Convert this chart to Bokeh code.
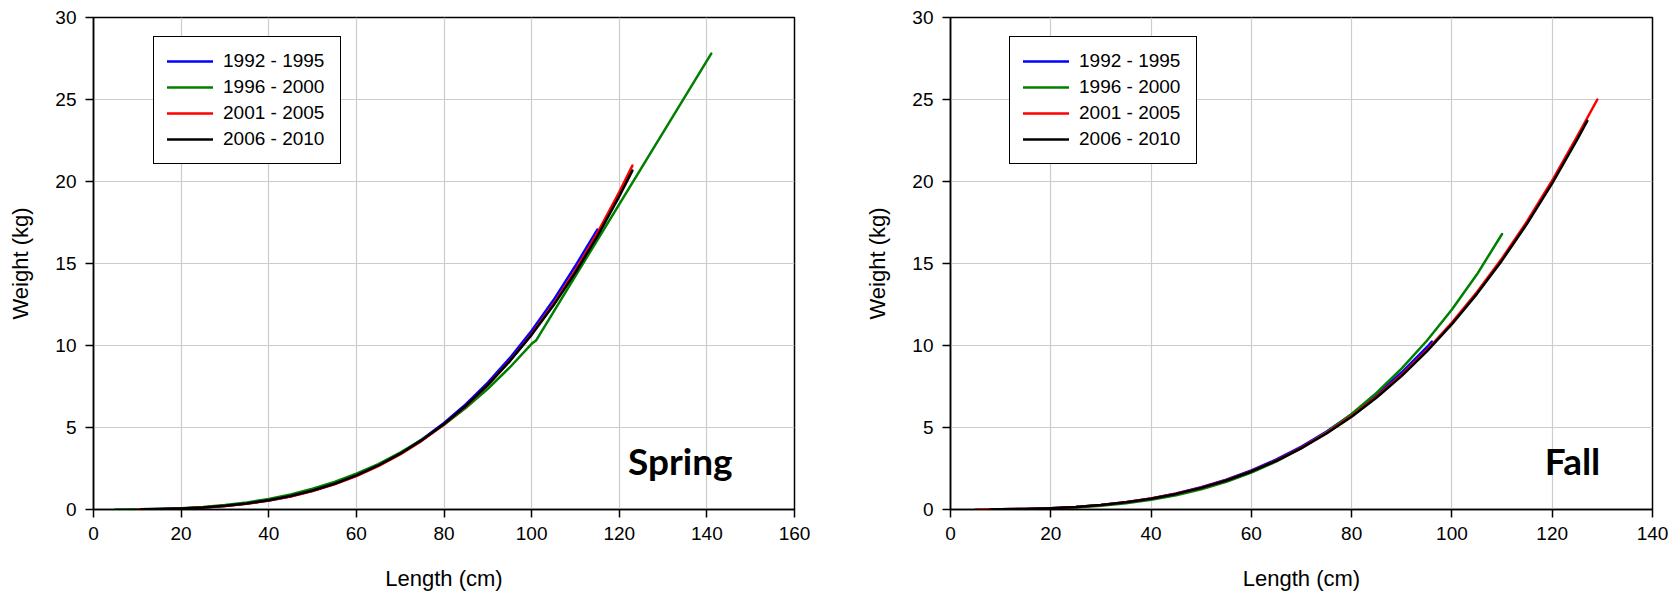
from bokeh.plotting import figure
from bokeh.models import Range1d, SingleIntervalTicker, Legend, LegendItem, Label
from bokeh.layouts import row
from bokeh.embed import file_html
from bokeh.resources import INLINE

# ---------------- data ----------------
series_labels = ["1992 - 1995", "1996 - 2000", "2001 - 2005", "2006 - 2010"]
series_colors = ["#0000ff", "#008000", "#ff0000", "#000000"]

# Spring
spring_1992_len = [10, 15, 20, 25, 30, 35, 40, 45, 50, 55, 60, 65, 70, 75, 80, 85, 90, 95, 100, 105, 110, 115]
spring_1992_wt = [0.006, 0.023, 0.058, 0.121, 0.218, 0.360, 0.555, 0.813, 1.146, 1.562, 2.072, 2.688, 3.419,
                  4.279, 5.279, 6.428, 7.739, 9.227, 10.90, 12.77, 14.86, 17.07]
spring_1996_len = [5, 10, 15, 20, 25, 30, 35, 40, 45, 50, 55, 60, 65, 70, 75, 80, 85, 90, 95, 100, 101, 141]
spring_1996_wt = [0.001, 0.010, 0.034, 0.081, 0.158, 0.273, 0.433, 0.646, 0.920, 1.263, 1.680, 2.182, 2.773,
                  3.464, 4.261, 5.171, 6.203, 7.363, 8.660, 10.10, 10.30, 27.80]
spring_2001_len = [10, 15, 20, 25, 30, 35, 40, 45, 50, 55, 60, 65, 70, 75, 80, 85, 90, 95, 100, 105, 110, 115, 120, 123]
spring_2001_wt = [0.006, 0.022, 0.057, 0.118, 0.214, 0.353, 0.545, 0.798, 1.125, 1.533, 2.034, 2.639, 3.357,
                  4.201, 5.182, 6.310, 7.597, 9.058, 10.70, 12.54, 14.59, 16.85, 19.35, 20.97]
spring_2006_len = [11, 15, 20, 25, 30, 35, 40, 45, 50, 55, 60, 65, 70, 75, 80, 85, 90, 95, 100, 105, 110, 115, 120, 123]
spring_2006_wt = [0.009, 0.025, 0.062, 0.126, 0.226, 0.370, 0.567, 0.828, 1.159, 1.572, 2.077, 2.684, 3.402,
                  4.242, 5.215, 6.331, 7.601, 9.038, 10.65, 12.45, 14.45, 16.66, 19.09, 20.66]

# Fall
fall_1992_len = [10, 15, 20, 25, 30, 35, 40, 45, 50, 55, 60, 65, 70, 75, 80, 85, 90, 95, 96]
fall_1992_wt = [0.009, 0.032, 0.079, 0.158, 0.278, 0.448, 0.677, 0.976, 1.353, 1.818, 2.380, 3.051, 3.840,
                4.755, 5.808, 7.009, 8.367, 9.895, 10.24]
fall_1996_len = [10, 15, 20, 25, 30, 35, 40, 45, 50, 55, 60, 65, 70, 75, 80, 85, 90, 95, 100, 105, 110]
fall_1996_wt = [0.006, 0.023, 0.059, 0.124, 0.227, 0.378, 0.588, 0.868, 1.230, 1.686, 2.250, 2.932, 3.747,
                4.708, 5.829, 7.125, 8.607, 10.29, 12.20, 14.34, 16.80]
fall_2001_len = [5, 10, 15, 20, 25, 30, 35, 40, 45, 50, 55, 60, 65, 70, 75, 80, 85, 90, 95, 100, 105, 110, 115,
                 120, 125, 129]
fall_2001_wt = [0.001, 0.009, 0.032, 0.078, 0.155, 0.273, 0.440, 0.666, 0.959, 1.329, 1.786, 2.339, 2.998,
                3.773, 4.673, 5.708, 6.888, 8.223, 9.724, 11.40, 13.26, 15.32, 17.58, 20.06, 22.77, 25.00]
fall_2006_len = [8, 10, 15, 20, 25, 30, 35, 40, 45, 50, 55, 60, 65, 70, 75, 80, 85, 90, 95, 100, 105, 110, 115,
                 120, 125, 127]
fall_2006_wt = [0.005, 0.009, 0.032, 0.077, 0.154, 0.270, 0.436, 0.660, 0.951, 1.318, 1.771, 2.319, 2.972,
                3.740, 4.632, 5.658, 6.827, 8.151, 9.639, 11.30, 13.15, 15.19, 17.43, 19.89, 22.57, 23.70]

spring_x_max = 160
fall_x_max = 140
y_max = 30
season_names = ["Spring", "Fall"]

FONT = "Liberation Sans"


def make_plot(series, x_max, season, border_left, frame_w, border_right, season_x, legend_x):
    p = figure(output_backend="svg", toolbar_location=None,
               frame_width=frame_w, frame_height=492,
               min_border_left=border_left, min_border_right=border_right,
               min_border_top=17, min_border_bottom=84,
               x_range=Range1d(0, x_max), y_range=Range1d(0, y_max))
    p.background_fill_color = "white"
    p.border_fill_color = "white"
    p.outline_line_color = "black"
    p.outline_line_width = 1.5
    p.outline_line_alpha = 1.0

    p.xaxis.ticker = SingleIntervalTicker(interval=20, num_minor_ticks=0)
    p.yaxis.ticker = SingleIntervalTicker(interval=5, num_minor_ticks=0)
    p.xaxis.axis_label = "Length (cm)"
    p.yaxis.axis_label = "Weight (kg)"
    for ax in (p.xaxis, p.yaxis):
        ax.axis_line_color = "black"
        ax.axis_line_width = 1.5
        ax.major_tick_line_color = "black"
        ax.major_tick_line_width = 1.5
        ax.major_tick_in = 0
        ax.major_tick_out = 8
        ax.minor_tick_line_color = None
        ax.major_label_text_font = FONT
        ax.major_label_text_font_size = "19px"
        ax.major_label_text_color = "black"
        ax.axis_label_text_font = FONT
        ax.axis_label_text_font_size = "22px"
        ax.axis_label_text_font_style = "normal"
        ax.axis_label_text_color = "black"
    p.xaxis.major_label_standoff = 9
    p.yaxis.major_label_standoff = 9
    p.xaxis.axis_label_standoff = 23
    p.yaxis.axis_label_standoff = 19

    p.xgrid.grid_line_color = "#cccccc"
    p.ygrid.grid_line_color = "#cccccc"
    p.xgrid.grid_line_width = 1.2
    p.ygrid.grid_line_width = 1.2

    items = []
    for (xs, ys), lab, col in zip(series, series_labels, series_colors):
        r = p.line(xs, ys, line_color=col, line_width=2.5, line_join="round", line_cap="round")
        items.append(LegendItem(label=lab, renderers=[r]))

    legend = Legend(items=items, location=(legend_x, 345))
    legend.border_line_color = "black"
    legend.border_line_width = 1.5
    legend.border_line_alpha = 1.0
    legend.background_fill_color = "white"
    legend.background_fill_alpha = 1.0
    legend.label_text_font = FONT
    legend.label_text_font_size = "19px"
    legend.label_text_color = "black"
    legend.glyph_width = 46
    legend.glyph_height = 20
    legend.label_height = 20
    legend.label_width = 104
    legend.label_standoff = 10
    legend.spacing = 4
    legend.padding = 13
    legend.margin = 0
    p.add_layout(legend)

    p.add_layout(Label(x=season_x, y=3.0, text=season, text_font="Lato", text_font_style="bold",
                       text_font_size="37px", text_color="black", text_baseline="alphabetic"))
    return p


spring = make_plot([(spring_1992_len, spring_1992_wt), (spring_1996_len, spring_1996_wt),
                    (spring_2001_len, spring_2001_wt), (spring_2006_len, spring_2006_wt)],
                   spring_x_max, season_names[0], 93, 701, 64, 122.0, 60)
fall = make_plot([(fall_1992_len, fall_1992_wt), (fall_1996_len, fall_1996_wt),
                  (fall_2001_len, fall_2001_wt), (fall_2006_len, fall_2006_wt)],
                 fall_x_max, season_names[1], 92, 702, 24, 118.5, 59)

layout = row(spring, fall)
open("out.html", "w").write(file_html(layout, INLINE))
